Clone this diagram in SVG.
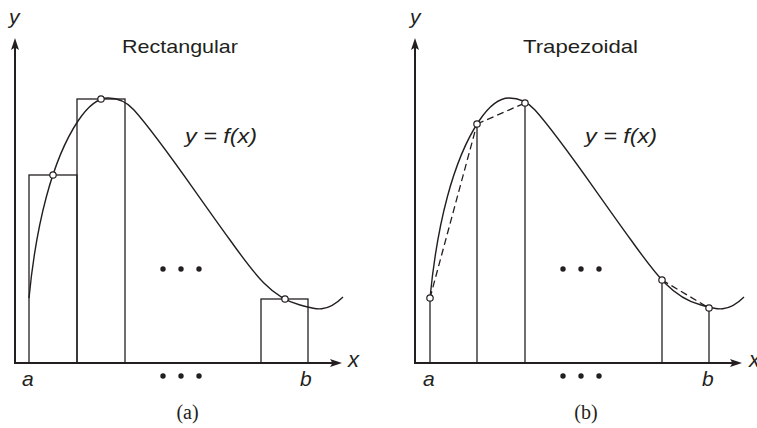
<svg xmlns="http://www.w3.org/2000/svg" xmlns:xlink="http://www.w3.org/1999/xlink" width="757" height="428" viewBox="0 0 757 428">
<style>
.ax{stroke:#231f20;stroke-width:2;fill:none}
.ln{stroke:#231f20;stroke-width:1.3;fill:none}
.cv{stroke:#231f20;stroke-width:1.4;fill:none}
.ds{stroke:#231f20;stroke-width:1.3;fill:none;stroke-dasharray:7 4}
.pt{fill:#fff;stroke:#231f20;stroke-width:1.2}
.dot{fill:#231f20}
.lbl{font-family:"Liberation Sans",Arial,sans-serif;font-style:italic;fill:#231f20}
.ttl{font-family:"Liberation Sans",Arial,sans-serif;font-size:19px;fill:#231f20}
.cap{font-family:"Liberation Serif","Times New Roman",serif;font-size:20px;fill:#231f20}
</style>
<defs>
<marker id="arr" markerUnits="userSpaceOnUse" markerWidth="12" markerHeight="10" viewBox="0 -5 12 10" refX="5" refY="0" orient="auto">
<path d="M0,-4 L12,0 L0,4 L2.5,0 Z" fill="#231f20"/>
</marker>
<path id="fcurve" d="M29,298 C36,225 52,160 78,121 C90,103 100,98 108,98 C118,98 126,101 134,110 C160,139 190,185 230,240 C255,275 272,298 300,305 C314,309 326,314 343,297"/>
</defs>

<g id="panel-a">
<g id="axes-a">
<line class="ax" x1="15" y1="364" x2="15" y2="45" marker-end="url(#arr)"/>
<line class="ax" x1="14" y1="363" x2="335" y2="363" marker-end="url(#arr)"/>
</g>
<g id="rects-a">
<rect class="ln" x="29" y="175" width="48" height="188"/>
<rect class="ln" x="77" y="99" width="48" height="264"/>
<rect class="ln" x="261" y="299" width="47" height="64"/>
</g>
<g id="curve-a">
<use xlink:href="#fcurve" class="cv"/>
</g>
<g id="points-a">
<circle class="pt" cx="53" cy="175" r="3.2"/>
<circle class="pt" cx="101" cy="99" r="3.2"/>
<circle class="pt" cx="285" cy="299" r="3.2"/>
</g>
<g id="dots-a">
<circle class="dot" cx="163" cy="269" r="2.7"/>
<circle class="dot" cx="181" cy="269" r="2.7"/>
<circle class="dot" cx="199" cy="269" r="2.7"/>
<circle class="dot" cx="163" cy="376" r="2.7"/>
<circle class="dot" cx="181" cy="376" r="2.7"/>
<circle class="dot" cx="199" cy="376" r="2.7"/>
</g>
<g id="labels-a">
<text class="lbl" x="9" y="24" font-size="21">y</text>
<text class="ttl" x="122" y="53" textLength="116" lengthAdjust="spacingAndGlyphs">Rectangular</text>
<text class="lbl" x="185" y="143" font-size="19.5" textLength="72" lengthAdjust="spacingAndGlyphs">y = f(x)</text>
<text class="lbl" x="348" y="367" font-size="22">x</text>
<text class="lbl" x="22" y="386" font-size="21">a</text>
<text class="lbl" x="300" y="386" font-size="21">b</text>
<text class="cap" x="187.5" y="419" text-anchor="middle">(a)</text>
</g>
</g>

<g id="panel-b">
<g id="axes-b">
<line class="ax" x1="415" y1="364" x2="415" y2="45" marker-end="url(#arr)"/>
<line class="ax" x1="414" y1="363" x2="735" y2="363" marker-end="url(#arr)"/>
</g>
<g id="ordinates-b">
<line class="ln" x1="430" y1="363" x2="430" y2="298"/>
<line class="ln" x1="477" y1="363" x2="477" y2="124"/>
<line class="ln" x1="525" y1="363" x2="525" y2="103"/>
<line class="ln" x1="662" y1="363" x2="662" y2="280"/>
<line class="ln" x1="709" y1="363" x2="709" y2="308"/>
</g>
<g id="curve-b">
<use xlink:href="#fcurve" class="cv" transform="translate(401,0)"/>
</g>
<g id="chords-b">
<line class="ds" x1="430" y1="298" x2="477" y2="124"/>
<line class="ds" x1="477" y1="124" x2="525" y2="103"/>
<line class="ds" x1="662" y1="280" x2="709" y2="308"/>
</g>
<g id="points-b">
<circle class="pt" cx="430" cy="298" r="3.2"/>
<circle class="pt" cx="477" cy="124" r="3.2"/>
<circle class="pt" cx="525" cy="103" r="3.2"/>
<circle class="pt" cx="662" cy="280" r="3.2"/>
<circle class="pt" cx="709" cy="308" r="3.2"/>
</g>
<g id="dots-b">
<circle class="dot" cx="563" cy="269" r="2.7"/>
<circle class="dot" cx="581" cy="269" r="2.7"/>
<circle class="dot" cx="599" cy="269" r="2.7"/>
<circle class="dot" cx="563" cy="376" r="2.7"/>
<circle class="dot" cx="581" cy="376" r="2.7"/>
<circle class="dot" cx="599" cy="376" r="2.7"/>
</g>
<g id="labels-b">
<text class="lbl" x="410" y="24" font-size="21">y</text>
<text class="ttl" x="523" y="53" textLength="115" lengthAdjust="spacingAndGlyphs">Trapezoidal</text>
<text class="lbl" x="585" y="143" font-size="19.5" textLength="72" lengthAdjust="spacingAndGlyphs">y = f(x)</text>
<text class="lbl" x="749" y="367" font-size="22">x</text>
<text class="lbl" x="423" y="386" font-size="21">a</text>
<text class="lbl" x="702" y="386" font-size="21">b</text>
<text class="cap" x="586" y="419" text-anchor="middle">(b)</text>
</g>
</g>
</svg>
